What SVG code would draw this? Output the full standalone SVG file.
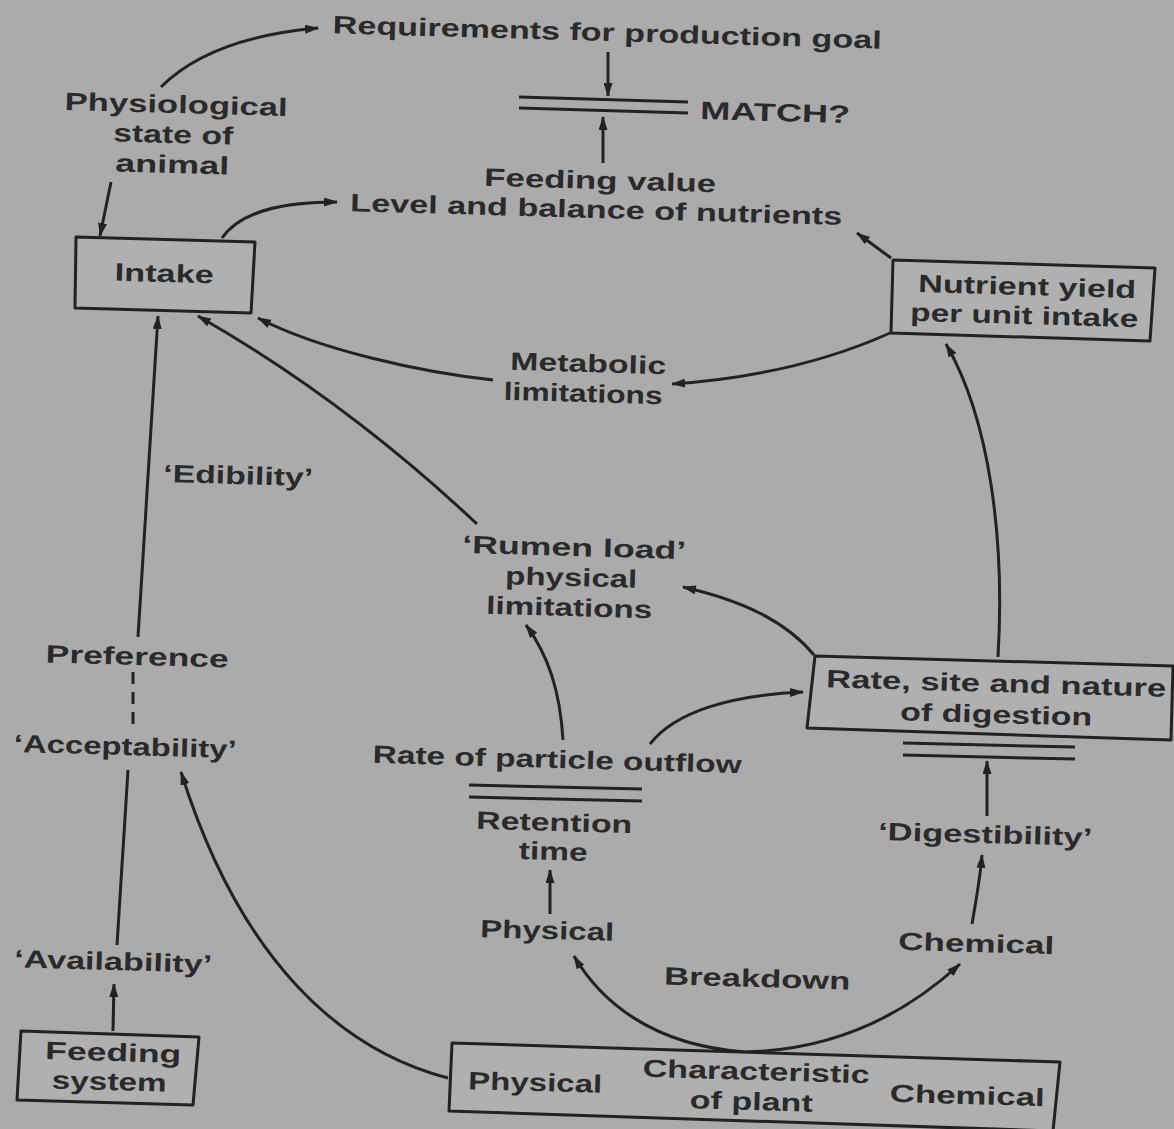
<svg xmlns="http://www.w3.org/2000/svg" width="1174" height="1129" viewBox="0 0 1174 1129">
<defs>
<marker id="ah" markerUnits="userSpaceOnUse" markerWidth="14" markerHeight="9" refX="13" refY="4.5" orient="auto">
<path d="M0,0 L14,4.5 L0,9 z" fill="#222"/>
</marker>
<style>
text{font-family:"Liberation Sans",Arial,sans-serif;font-weight:bold;font-size:25px;fill:#2a2a2a;text-anchor:middle;}
.box{fill:#b0b0b0;stroke:#222;stroke-width:3;stroke-linejoin:round;}
.c{fill:none;stroke:#222;stroke-width:3;}
.a{marker-end:url(#ah);}
.eq{stroke:#222;stroke-width:3;fill:none;}
</style>
</defs>
<rect width="1174" height="1129" fill="#ababab"/>

<g id="connectors">
<path class="c a" d="M161,87 C190,58 240,35 318,28"/>
<path class="c a" d="M111,182 L100,236"/>
<path class="c a" d="M222,238 C240,212 280,202 337,202"/>
<path class="c a" d="M608,52 L608,96"/>
<path class="c a" d="M603,163 L603,117"/>
<path class="eq" d="M519,97 L688,102 M519,108 L688,113"/>
<path class="c a" d="M891,258 L857,233"/>
<path class="c a" d="M890,333 C830,360 760,378 672,384"/>
<path class="c a" d="M493,380 C420,372 320,350 258,318"/>
<path class="c a" d="M477,524 Q345,400 198,316"/>
<path class="c a" d="M138,637 L158,316"/>
<path class="c" d="M133,672 L133,730" stroke-dasharray="12 8"/>
<path class="c" d="M128,770 L117,945"/>
<path class="c a" d="M113,1031 L114,984"/>
<path class="c a" d="M448,1078 C340,1050 240,960 181,772"/>
<path class="c a" d="M563,740 C560,690 548,655 526,625"/>
<path class="c a" d="M650,744 C675,712 730,695 803,692"/>
<path class="c a" d="M814,655 C785,620 740,600 683,587"/>
<path class="c a" d="M998,657 C1005,540 990,420 946,344"/>
<path class="eq" d="M469,785 L642,789 M469,797 L642,801"/>
<path class="eq" d="M903,743 L1075,747 M903,755 L1075,759"/>
<path class="c a" d="M987,816 L987,761"/>
<path class="c a" d="M972,924 C976,900 980,880 982,855"/>
<path class="c a" d="M550,914 L550,870"/>
<path class="c a" d="M745,1052 C650,1045 600,1000 574,956"/>
<path class="c a" d="M745,1052 C840,1050 910,1010 960,964"/>
</g>

<g id="node-requirements"><text x="607" y="41" textLength="549" lengthAdjust="spacingAndGlyphs" transform="rotate(1.6 607 41)">Requirements for production  goal</text></g>
<g id="node-match"><text x="775" y="121" textLength="150" lengthAdjust="spacingAndGlyphs" transform="rotate(1.6 775 121)">MATCH?</text></g>
<g id="node-physiological">
<text x="176" y="113" textLength="223" lengthAdjust="spacingAndGlyphs" transform="rotate(1.6 176 113)">Physiological</text>
<text x="173" y="143" textLength="120" lengthAdjust="spacingAndGlyphs" transform="rotate(1.6 173 143)">state of</text>
<text x="172" y="173" textLength="114" lengthAdjust="spacingAndGlyphs" transform="rotate(1.6 172 173)">animal</text>
</g>
<g id="node-feeding-value">
<text x="600" y="189" textLength="232" lengthAdjust="spacingAndGlyphs" transform="rotate(1.6 600 189)">Feeding value</text>
<text x="596" y="218" textLength="492" lengthAdjust="spacingAndGlyphs" transform="rotate(1.6 596 218)">Level and balance of nutrients</text>
</g>
<g id="node-intake">
<polygon class="box" points="76,237 255,242 251,313 75,308"/>
<text x="164" y="282" textLength="99" lengthAdjust="spacingAndGlyphs" transform="rotate(1.6 164 282)">Intake</text>
</g>
<g id="node-nutrient-yield">
<polygon class="box" points="893,260 1155,268 1150,341 891,333"/>
<text x="1027" y="295" textLength="218" lengthAdjust="spacingAndGlyphs" transform="rotate(1.6 1027 295)">Nutrient yield</text>
<text x="1024" y="324" textLength="228" lengthAdjust="spacingAndGlyphs" transform="rotate(1.6 1024 324)">per unit intake</text>
</g>
<g id="node-metabolic">
<text x="588" y="372" textLength="156" lengthAdjust="spacingAndGlyphs" transform="rotate(1.6 588 372)">Metabolic</text>
<text x="583" y="402" textLength="159" lengthAdjust="spacingAndGlyphs" transform="rotate(1.6 583 402)">limitations</text>
</g>
<g id="node-edibility"><text x="238" y="484" textLength="150" lengthAdjust="spacingAndGlyphs" transform="rotate(1.6 238 484)">‘Edibility’</text></g>
<g id="node-rumen-load">
<text x="574" y="556" textLength="224" lengthAdjust="spacingAndGlyphs" transform="rotate(1.6 574 556)">‘Rumen load’</text>
<text x="571" y="586" textLength="132" lengthAdjust="spacingAndGlyphs" transform="rotate(1.6 571 586)">physical</text>
<text x="569" y="616" textLength="166" lengthAdjust="spacingAndGlyphs" transform="rotate(1.6 569 616)">limitations</text>
</g>
<g id="node-preference"><text x="137" y="665" textLength="183" lengthAdjust="spacingAndGlyphs" transform="rotate(1.6 137 665)">Preference</text></g>
<g id="node-acceptability"><text x="125" y="755" textLength="223" lengthAdjust="spacingAndGlyphs" transform="rotate(1.6 125 755)">‘Acceptability’</text></g>
<g id="node-particle-outflow">
<text x="557" y="768" textLength="369" lengthAdjust="spacingAndGlyphs" transform="rotate(1.6 557 768)">Rate of particle outflow</text>
<text x="554" y="831" textLength="156" lengthAdjust="spacingAndGlyphs" transform="rotate(1.6 554 831)">Retention</text>
<text x="553" y="860" textLength="69" lengthAdjust="spacingAndGlyphs" transform="rotate(1.6 553 860)">time</text>
</g>
<g id="node-digestion">
<polygon class="box" points="815,656 1173,666 1171,740 807,728"/>
<text x="996" y="692" textLength="340" lengthAdjust="spacingAndGlyphs" transform="rotate(1.6 996 692)">Rate, site and nature</text>
<text x="996" y="723" textLength="192" lengthAdjust="spacingAndGlyphs" transform="rotate(1.6 996 723)">of digestion</text>
</g>
<g id="node-digestibility"><text x="985" y="843" textLength="214" lengthAdjust="spacingAndGlyphs" transform="rotate(1.6 985 843)">‘Digestibility’</text></g>
<g id="node-physical"><text x="547" y="939" textLength="134" lengthAdjust="spacingAndGlyphs" transform="rotate(1.6 547 939)">Physical</text></g>
<g id="node-chemical"><text x="976" y="952" textLength="156" lengthAdjust="spacingAndGlyphs" transform="rotate(1.6 976 952)">Chemical</text></g>
<g id="node-breakdown"><text x="757" y="987" textLength="186" lengthAdjust="spacingAndGlyphs" transform="rotate(1.6 757 987)">Breakdown</text></g>
<g id="node-availability"><text x="113" y="970" textLength="198" lengthAdjust="spacingAndGlyphs" transform="rotate(1.6 113 970)">‘Availability’</text></g>
<g id="node-feeding-system">
<polygon class="box" points="21,1031 199,1037 193,1105 17,1100"/>
<text x="113" y="1061" textLength="136" lengthAdjust="spacingAndGlyphs" transform="rotate(1.6 113 1061)">Feeding</text>
<text x="109" y="1090" textLength="115" lengthAdjust="spacingAndGlyphs" transform="rotate(1.6 109 1090)">system</text>
</g>
<g id="node-plant">
<polygon class="box" points="452,1043 1060,1062 1053,1131 449,1111"/>
<text x="535" y="1091" textLength="134" lengthAdjust="spacingAndGlyphs" transform="rotate(1.6 535 1091)">Physical</text>
<text x="756" y="1080" textLength="227" lengthAdjust="spacingAndGlyphs" transform="rotate(1.6 756 1080)">Characteristic</text>
<text x="751" y="1110" textLength="123" lengthAdjust="spacingAndGlyphs" transform="rotate(1.6 751 1110)">of plant</text>
<text x="967" y="1104" textLength="155" lengthAdjust="spacingAndGlyphs" transform="rotate(1.6 967 1104)">Chemical</text>
</g>
</svg>
